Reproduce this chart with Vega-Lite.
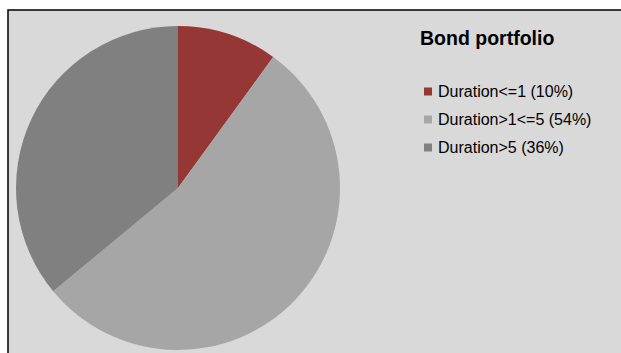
{
  "$schema": "https://vega.github.io/schema/vega-lite/v6.json",
  "width": 621,
  "height": 353,
  "autosize": {"type": "fit", "contains": "padding"},
  "padding": {"left": 7, "top": 9, "right": -2, "bottom": -2},
  "background": "#ffffff",
  "config": {
    "view": {"fill": "#D9D9D9", "stroke": "#000000", "strokeWidth": 1.5},
    "font": "Liberation Sans"
  },
  "layer": [
    {
      "data": {"values": [{"frame": "frame"}]},
      "mark": {"type": "rect", "fill": "#D9D9D9", "stroke": "#000000", "strokeWidth": 1.5},
      "encoding": {}
    },
    {
      "data": {
        "values": [
          {"category": "Duration<=1 (10%)", "share": 10, "order": 1},
          {"category": "Duration>1<=5 (54%)", "share": 54, "order": 2},
          {"category": "Duration>5 (36%)", "share": 36, "order": 3}
        ]
      },
      "mark": {"type": "arc", "outerRadius": 162, "x": 170, "y": 178},
      "encoding": {
        "theta": {"field": "share", "type": "quantitative", "stack": true},
        "order": {"field": "order", "type": "quantitative"},
        "color": {
          "field": "category",
          "type": "nominal",
          "sort": ["Duration<=1 (10%)", "Duration>1<=5 (54%)", "Duration>5 (36%)"],
          "scale": {
            "domain": ["Duration<=1 (10%)", "Duration>1<=5 (54%)", "Duration>5 (36%)"],
            "range": ["#953735", "#A6A6A6", "#808080"]
          },
          "legend": {
            "title": "Bond portfolio",
            "orient": "none",
            "legendX": 412,
            "legendY": 20,
            "padding": 0,
            "titleFontSize": 19.5,
            "titleFont": "Liberation Sans",
            "titleFontWeight": "bold",
            "titleColor": "#000000",
            "titlePadding": 34,
            "labelFontSize": 16,
            "labelFont": "Liberation Sans",
            "labelColor": "#000000",
            "labelOffset": 2,
            "symbolType": "square",
            "symbolSize": 64,
            "symbolStrokeWidth": 0,
            "rowPadding": 12,
            "labelLimit": 300
          }
        }
      }
    }
  ]
}
